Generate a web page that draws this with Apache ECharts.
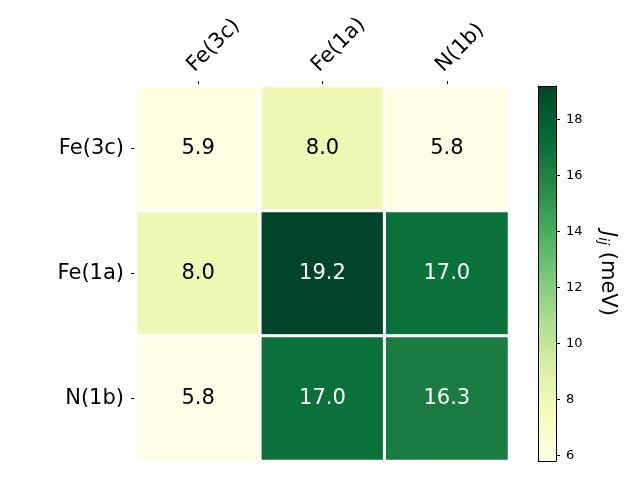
<!DOCTYPE html>
<html><head><meta charset="utf-8">
<script src="https://cdn.jsdelivr.net/npm/echarts@6/dist/echarts.min.js"></script>
<style>html,body{margin:0;padding:0;background:#fff}#c{width:640px;height:480px}</style>
</head><body><div id="c"></div>
<script>
const categories = ['Fe(3c)', 'Fe(1a)', 'N(1b)'];
const rowFe3c = [5.9, 8.0, 5.8];
const rowFe1a = [8.0, 19.2, 17.0];
const rowN1b = [5.8, 17.0, 16.3];
const colorbarTicks = [6, 8, 10, 12, 14, 16, 18];
const vMin = 5.8, vMax = 19.2;

const rows = [rowFe3c, rowFe1a, rowN1b];
const data = [];
rows.forEach((r, yi) => r.forEach((v, xi) => {
  data.push({value: [xi, yi, v], label: {color: v > 12 ? '#ffffff' : '#000000'}});
}));
const font = 'DejaVu Sans';
const chart = echarts.init(document.getElementById('c'));
chart.setOption({
  animation: false,
  textStyle: {fontFamily: font},
  grid: [
    {left: 136, top: 86, width: 373, height: 375},
    {left: 538, top: 86, width: 18, height: 375}
  ],
  xAxis: [
    {type: 'category', data: categories, position: 'top', gridIndex: 0,
     axisLine: {show: false}, splitLine: {show: false},
     axisTick: {show: true, alignWithLabel: true, length: 5, lineStyle: {color: '#000', width: 1}},
     axisLabel: {rotate: -45, fontSize: 21, color: '#000', fontFamily: font, margin: 10, verticalAlign: 'bottom'}},
    {type: 'value', gridIndex: 1, min: 0, max: 1, position: 'bottom', z: 10,
     axisLine: {show: true, onZero: false, lineStyle: {color: '#000', width: 1}},
     axisTick: {show: false}, axisLabel: {show: false}, splitLine: {show: false}},
    {type: 'value', gridIndex: 1, min: 0, max: 1, position: 'top', z: 10,
     axisLine: {show: true, onZero: false, lineStyle: {color: '#000', width: 1}},
     axisTick: {show: false}, axisLabel: {show: false}, splitLine: {show: false}}
  ],
  yAxis: [
    {type: 'category', data: categories, inverse: true, gridIndex: 0,
     axisLine: {show: false}, splitLine: {show: false},
     axisTick: {show: true, alignWithLabel: true, length: 5, lineStyle: {color: '#000', width: 1}},
     axisLabel: {fontSize: 21, color: '#000', fontFamily: font, margin: 12}},
    {type: 'value', gridIndex: 1, min: vMin, max: vMax, position: 'right', z: 10,
     axisLine: {show: true, onZero: false, lineStyle: {color: '#000', width: 1}},
     axisTick: {show: true, length: 4, customValues: colorbarTicks, lineStyle: {color: '#000'}},
     axisLabel: {show: true, customValues: colorbarTicks, fontSize: 13, color: '#000', fontFamily: font, margin: 10},
     splitLine: {show: false},
     name: '{j|J}{s|ij} (meV)', nameLocation: 'middle', nameRotate: -90, nameGap: 40,
     nameTextStyle: {fontSize: 21, color: '#000', fontFamily: font,
       rich: {j: {fontSize: 21, fontStyle: 'italic', fontFamily: font, color: '#000'},
              s: {fontSize: 14, fontStyle: 'italic', fontFamily: font, color: '#000', verticalAlign: 'bottom', padding: [8, 0, 0, 0]}}}},
    {type: 'value', gridIndex: 1, min: vMin, max: vMax, position: 'left', z: 10,
     axisLine: {show: true, onZero: false, lineStyle: {color: '#000', width: 1}},
     axisTick: {show: false}, axisLabel: {show: false}, splitLine: {show: false}}
  ],
  visualMap: {
    type: 'continuous', min: vMin, max: vMax, calculable: false, seriesIndex: 0,
    left: 538, top: 86, itemWidth: 18, itemHeight: 375, padding: 0, text: null,
    showLabel: false,
    inRange: {color: ['#ffffe5', '#f7fcb9', '#d9f0a3', '#addd8e', '#78c679', '#41ab5d', '#238443', '#006837', '#004529']}
  },
  series: [{
    type: 'heatmap', xAxisIndex: 0, yAxisIndex: 0, data: data,
    itemStyle: {borderColor: '#ffffff', borderWidth: 3},
    label: {show: true, fontSize: 21, fontFamily: font, formatter: p => p.value[2].toFixed(1)},
    emphasis: {disabled: true}
  }]
});
</script></body></html>
